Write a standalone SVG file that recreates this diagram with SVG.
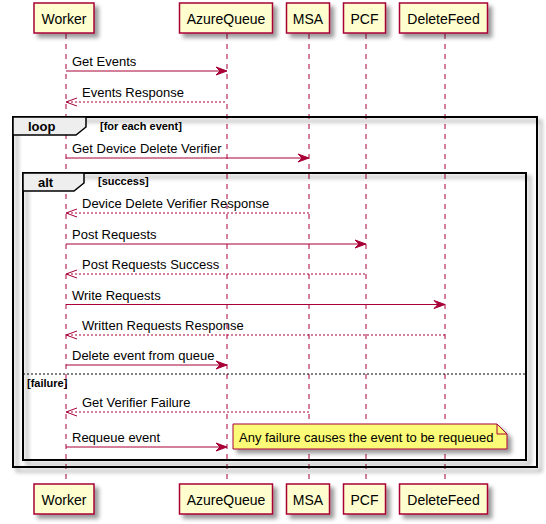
<svg xmlns="http://www.w3.org/2000/svg" width="546" height="524" viewBox="0 0 546 524">
<defs>
<filter id="sh" x="-0.2" y="-0.2" width="1.5" height="1.5">
<feGaussianBlur in="SourceAlpha" stdDeviation="2" result="b"/>
<feColorMatrix in="b" type="matrix" values="0 0 0 0 0 0 0 0 0 0 0 0 0 0 0 0 0 0 0.4 0" result="b2"/>
<feOffset in="b2" dx="4" dy="4" result="b3"/>
<feMerge><feMergeNode in="b3"/><feMergeNode in="SourceGraphic"/></feMerge>
</filter>
</defs>
<style>
text{font-family:"Liberation Sans",Arial,sans-serif;font-size:13px;fill:#000}
.pbox{fill:#FEFECE;stroke:#A80036;stroke-width:1.5;filter:url(#sh)}
.pt{font-size:14px;text-anchor:middle}
.life{stroke:#A80036;stroke-width:1;stroke-dasharray:5,5}
.frame{fill:none;stroke:#000;stroke-width:2;filter:url(#sh)}
.tab{fill:#EEEEEE;stroke:#000;stroke-width:1.5}
.fl{font-weight:bold}
.cond{font-weight:bold;font-size:11px}
.msg{stroke:#A80036;stroke-width:1}
.dash{stroke-dasharray:2,2}
.head{fill:#A80036;stroke:#A80036;stroke-width:1}
.open{fill:none;stroke:#A80036;stroke-width:1}
.sep{stroke:#000;stroke-width:1;stroke-dasharray:2,2}
.note{fill:#FBFB77;stroke:#A80036;stroke-width:1;filter:url(#sh)}
.fold{fill:none;stroke:#A80036;stroke-width:1}
</style>

<g id="Worker">
<line class="life" x1="66" y1="34" x2="66" y2="484"/>
<rect class="pbox" x="34" y="3" width="60" height="30"/>
<text class="pt" x="64" y="23.5">Worker</text>
<rect class="pbox" x="34" y="484" width="60" height="30"/>
<text class="pt" x="64" y="504.5">Worker</text>
</g>
<g id="AzureQueue">
<line class="life" x1="227" y1="34" x2="227" y2="484"/>
<rect class="pbox" x="179.5" y="3" width="93" height="30"/>
<text class="pt" x="226" y="23.5">AzureQueue</text>
<rect class="pbox" x="179.5" y="484" width="93" height="30"/>
<text class="pt" x="226" y="504.5">AzureQueue</text>
</g>
<g id="MSA">
<line class="life" x1="309" y1="34" x2="309" y2="484"/>
<rect class="pbox" x="286.5" y="3" width="43" height="30"/>
<text class="pt" x="308" y="23.5">MSA</text>
<rect class="pbox" x="286.5" y="484" width="43" height="30"/>
<text class="pt" x="308" y="504.5">MSA</text>
</g>
<g id="PCF">
<line class="life" x1="366" y1="34" x2="366" y2="484"/>
<rect class="pbox" x="343.5" y="3" width="42" height="30"/>
<text class="pt" x="364.5" y="23.5">PCF</text>
<rect class="pbox" x="343.5" y="484" width="42" height="30"/>
<text class="pt" x="364.5" y="504.5">PCF</text>
</g>
<g id="DeleteFeed">
<line class="life" x1="445" y1="34" x2="445" y2="484"/>
<rect class="pbox" x="399.5" y="3" width="88" height="30"/>
<text class="pt" x="443.5" y="23.5">DeleteFeed</text>
<rect class="pbox" x="399.5" y="484" width="88" height="30"/>
<text class="pt" x="443.5" y="504.5">DeleteFeed</text>
</g>

<g id="frame-loop">
<rect class="frame" x="13" y="117" width="524" height="350"/>
<path class="tab" d="M13,117 H86 V127 L76,135 H13 Z"/>
<text class="fl" x="28" y="131">loop</text>
<text class="cond" x="100" y="130">[for each event]</text>
</g>
<g id="frame-alt">
<rect class="frame" x="23" y="173" width="503" height="287"/>
<path class="tab" d="M23,173 H84 V183 L74,191 H23 Z"/>
<text class="fl" x="38" y="187">alt</text>
<text class="cond" x="98" y="185">[success]</text>
<line class="sep" x1="23" y1="374" x2="526" y2="374"/>
<text class="cond" x="27" y="387">[failure]</text>
</g>

<g id="connectors">
<line class="msg" x1="66" y1="71" x2="226" y2="71"/>
<polygon class="head" points="216,67 227,71 216,75 220,71"/>
<text x="72" y="66">Get Events</text>

<line class="msg dash" x1="67" y1="102" x2="227" y2="102"/>
<polyline class="open" points="77,98 66,102 77,106"/>
<text x="82" y="97">Events Response</text>

<line class="msg" x1="66" y1="158" x2="308" y2="158"/>
<polygon class="head" points="298,154 309,158 298,162 302,158"/>
<text x="72" y="153">Get Device Delete Verifier</text>

<line class="msg dash" x1="67" y1="213" x2="309" y2="213"/>
<polyline class="open" points="77,209 66,213 77,217"/>
<text x="82" y="208">Device Delete Verifier Response</text>

<line class="msg" x1="66" y1="244" x2="365" y2="244"/>
<polygon class="head" points="355,240 366,244 355,248 359,244"/>
<text x="72" y="239">Post Requests</text>

<line class="msg dash" x1="67" y1="274" x2="366" y2="274"/>
<polyline class="open" points="77,270 66,274 77,278"/>
<text x="82" y="269">Post Requests Success</text>

<line class="msg" x1="66" y1="304.5" x2="444" y2="304.5"/>
<polygon class="head" points="434,300.5 445,304.5 434,308.5 438,304.5"/>
<text x="72" y="299.5">Write Requests</text>

<line class="msg dash" x1="67" y1="335" x2="445" y2="335"/>
<polyline class="open" points="77,331 66,335 77,339"/>
<text x="82" y="330">Written Requests Response</text>

<line class="msg" x1="66" y1="365" x2="226" y2="365"/>
<polygon class="head" points="216,361 227,365 216,369 220,365"/>
<text x="72" y="360">Delete event from queue</text>

<line class="msg dash" x1="67" y1="412" x2="309" y2="412"/>
<polyline class="open" points="77,408 66,412 77,416"/>
<text x="82" y="407">Get Verifier Failure</text>

<line class="msg" x1="66" y1="447" x2="226" y2="447"/>
<polygon class="head" points="216,443 227,447 216,451 220,447"/>
<text x="72" y="442">Requeue event</text>
</g>

<g id="note">
<path class="note" d="M233,424 H497 L507,434 V449 H233 Z"/>
<path class="fold" d="M497,424 V434 H507"/>
<text x="239" y="441.5">Any failure causes the event to be requeued</text>
</g>
</svg>
